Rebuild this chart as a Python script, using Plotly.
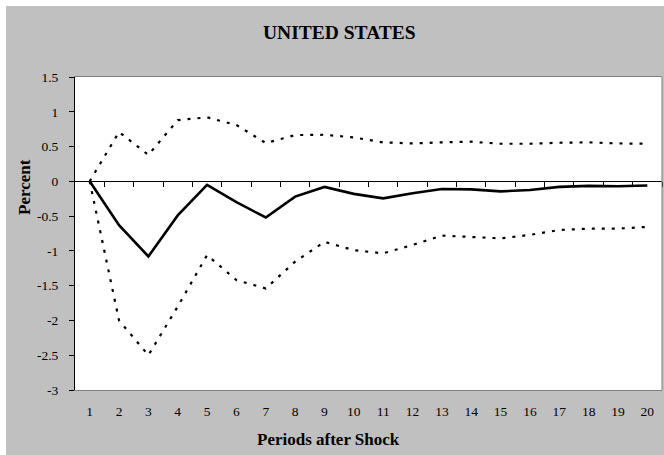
import plotly.graph_objects as go

# Impulse response: periods after the shock and the response with its bands
periods = list(range(1, 21))
response = [0.0, -0.63, -1.08, -0.49, -0.05, -0.30, -0.52, -0.22, -0.08, -0.18,
            -0.245, -0.17, -0.11, -0.115, -0.145, -0.125, -0.08, -0.065, -0.07, -0.06]
upper_band = [0.0, 0.71, 0.38, 0.88, 0.92, 0.81, 0.55, 0.665, 0.67, 0.63,
              0.56, 0.545, 0.56, 0.57, 0.54, 0.54, 0.555, 0.56, 0.545, 0.54]
lower_band = [0.0, -2.0, -2.5, -1.8, -1.06, -1.42, -1.54, -1.155, -0.87, -0.99,
              -1.035, -0.915, -0.78, -0.795, -0.82, -0.77, -0.70, -0.68, -0.68, -0.655]

y_ticks = [1.5, 1, 0.5, 0, -0.5, -1, -1.5, -2, -2.5, -3]
y_tick_text = ["1.5", "1", "0.5", "0", "-0.5", "-1", "-1.5", "-2", "-2.5", "-3"]

W, H = 664, 455
L, R, T, B = 75, 2, 77, 65
PW, PH = W - L - R, H - T - B


def px(x):
    return (x - L) / PW


def py(y):
    return (H - B - y) / PH


FONT = "Liberation Serif, Times New Roman, serif"
GREY = "#c0c0c0"
BORDER = "#808080"
DOT = "3px,7px"

fig = go.Figure()
fig.add_trace(go.Scatter(x=periods, y=upper_band, mode="lines",
                         line=dict(color="black", width=2.2, dash=DOT)))
fig.add_trace(go.Scatter(x=periods, y=lower_band, mode="lines",
                         line=dict(color="black", width=2.2, dash=DOT)))
fig.add_trace(go.Scatter(x=periods, y=response, mode="lines",
                         line=dict(color="black", width=2.6)))
# carrier for the axis that crosses at zero
fig.add_trace(go.Scatter(x=periods, y=[None] * len(periods), xaxis="x2",
                         mode="lines", showlegend=False, hoverinfo="skip"))

boundaries = [p + 0.5 for p in periods]

fig.update_layout(
    width=W, height=H, autosize=False,
    margin=dict(l=L, r=R, t=T, b=B, pad=0),
    paper_bgcolor=GREY, plot_bgcolor="white",
    showlegend=False,
    font=dict(family=FONT, color="black", size=13),
    xaxis=dict(range=[0.5, 20.5], tickvals=periods,
               ticktext=[str(p) for p in periods],
               showgrid=False, zeroline=False,
               showline=True, linecolor=BORDER, linewidth=1, mirror=True,
               ticks="outside", ticklen=9, tickcolor="rgba(0,0,0,0)",
               tickfont=dict(family=FONT, size=13.5)),
    xaxis2=dict(range=[0.5, 20.5], overlaying="x", anchor="free",
                position=3 / 4.5, tickvals=boundaries,
                showticklabels=False, showgrid=False, zeroline=False,
                showline=True, linecolor="black", linewidth=1,
                ticks="outside", ticklen=5, tickcolor="black", tickwidth=1),
    yaxis=dict(range=[-3, 1.5], tickvals=y_ticks, ticktext=y_tick_text,
               showgrid=False, zeroline=False,
               showline=True, linecolor="black", linewidth=1,
               ticks="outside", ticklen=5, tickcolor="black",
               ticklabelstandoff=8,
               tickfont=dict(family=FONT, size=13.5)),
    shapes=[
        # right edge of the plotting area
        dict(type="line", xref="paper", yref="paper", x0=1, x1=1, y0=0, y1=1,
             line=dict(color=BORDER, width=1)),
        # thin white frame on the top and left of the chart
        dict(type="rect", xref="paper", yref="paper",
             x0=px(0), x1=px(6), y0=py(H), y1=py(0),
             fillcolor="white", line=dict(width=0)),
        dict(type="rect", xref="paper", yref="paper",
             x0=px(0), x1=px(W), y0=py(6), y1=py(0),
             fillcolor="white", line=dict(width=0)),
    ],
    annotations=[
        dict(text="<b>UNITED STATES</b>", xref="paper", yref="paper",
             x=px(339), y=py(33), xanchor="center", yanchor="middle",
             showarrow=False, font=dict(family=FONT, size=19.5)),
        dict(text="<b>Percent</b>", xref="paper", yref="paper",
             x=px(24), y=py(187), xanchor="center", yanchor="middle",
             textangle=-90, showarrow=False, font=dict(family=FONT, size=17)),
        dict(text="<b>Periods after Shock</b>", xref="paper", yref="paper",
             x=px(328), y=py(439), xanchor="center", yanchor="middle",
             showarrow=False, font=dict(family=FONT, size=17)),
    ],
)

fig.write_html("out.html")
